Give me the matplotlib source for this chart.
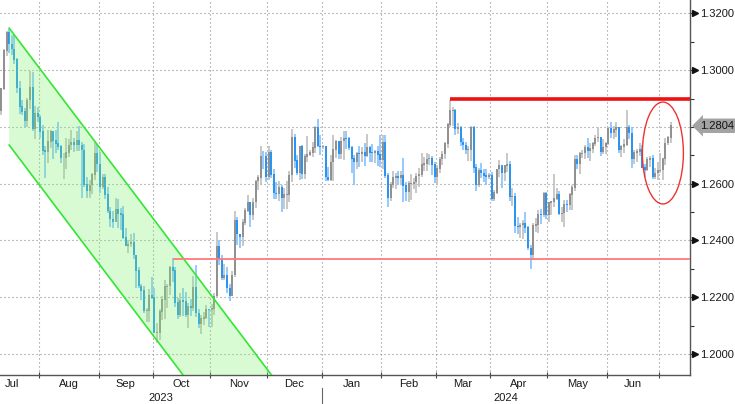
import numpy as np
import pandas as pd
import matplotlib
matplotlib.use('Agg')
import matplotlib.pyplot as plt
from matplotlib.patches import Ellipse, Polygon
from matplotlib import transforms

# daily GBPUSD bars, 3 Jul 2023 .. 5 Jul 2024 (weekdays)
first_open = 1.2700
high = [
    # Jul 2023
    1.2736, 1.2740, 1.2749, 1.2785, 1.2848, 1.2872, 1.2937, 1.3075, 1.3139, 1.3144,
    1.3122, 1.3126, 1.3043, 1.2962, 1.2893, 1.2866, 1.2902, 1.2996, 1.2994, 1.2873, 1.2871,
    # Aug
    1.2843, 1.2808, 1.2733, 1.2790, 1.2790, 1.2780, 1.2790, 1.2818, 1.2737, 1.2707, 1.2762, 1.2757,
    1.2789, 1.2761, 1.2786, 1.2803, 1.2747, 1.2740, 1.2625, 1.2612, 1.2637, 1.2746, 1.2738,
    # Sep
    1.2710, 1.2634, 1.2633, 1.2589, 1.2519, 1.2505, 1.2548, 1.2546, 1.2515, 1.2522, 1.2443,
    1.2400, 1.2424, 1.2425, 1.2341, 1.2308, 1.2245, 1.2238, 1.2163, 1.2228, 1.2271,
    # Oct
    1.2231, 1.2108, 1.2159, 1.2205, 1.2260, 1.2247, 1.2309, 1.2337, 1.2307, 1.2197, 1.2214,
    1.2234, 1.2218, 1.2180, 1.2193, 1.2273, 1.2315, 1.2158, 1.2136, 1.2148, 1.2172, 1.2158,
    # Nov
    1.2176, 1.2214, 1.2428, 1.2400, 1.2347, 1.2317, 1.2306, 1.2247, 1.2292, 1.2505, 1.2483,
    1.2423, 1.2475, 1.2514, 1.2559, 1.2535, 1.2549, 1.2614, 1.2632, 1.2733, 1.2714, 1.2713,
    # Dec
    1.2733, 1.2719, 1.2651, 1.2606, 1.2610, 1.2594, 1.2584, 1.2608, 1.2645, 1.2793, 1.2774,
    1.2701, 1.2734, 1.2737, 1.2705, 1.2767, 1.2717, 1.2748, 1.2803, 1.2827, 1.2771,
    # Jan 2024
    1.2736, 1.2733, 1.2659, 1.2702, 1.2772, 1.2753, 1.2750, 1.2765, 1.2786, 1.2785, 1.2764, 1.2733,
    1.2702, 1.2713, 1.2731, 1.2729, 1.2744, 1.2775, 1.2731, 1.2740, 1.2718, 1.2733, 1.2773,
    # Feb
    1.2773, 1.2772, 1.2637, 1.2606, 1.2643, 1.2637, 1.2645, 1.2646, 1.2690, 1.2605, 1.2611,
    1.2633, 1.2620, 1.2638, 1.2656, 1.2709, 1.2693, 1.2709, 1.2706, 1.2696, 1.2677,
    # Mar
    1.2667, 1.2694, 1.2716, 1.2746, 1.2815, 1.2894, 1.2870, 1.2863, 1.2815, 1.2802, 1.2760,
    1.2746, 1.2733, 1.2802, 1.2804, 1.2669, 1.2656, 1.2673, 1.2652, 1.2652, 1.2636,
    # Apr
    1.2640, 1.2578, 1.2652, 1.2684, 1.2658, 1.2666, 1.2709, 1.2680, 1.2583, 1.2567, 1.2481,
    1.2463, 1.2473, 1.2499, 1.2451, 1.2384, 1.2462, 1.2480, 1.2509, 1.2510, 1.2570, 1.2569,
    # May
    1.2536, 1.2539, 1.2635, 1.2584, 1.2574, 1.2517, 1.2541, 1.2541, 1.2567, 1.2596, 1.2702, 1.2700,
    1.2712, 1.2717, 1.2735, 1.2761, 1.2743, 1.2746, 1.2771, 1.2801, 1.2765, 1.2757, 1.2748,
    # Jun
    1.2800, 1.2816, 1.2804, 1.2818, 1.2801, 1.2737, 1.2759, 1.2860, 1.2807, 1.2800,
    1.2720, 1.2723, 1.2744, 1.2736, 1.2669, 1.2694, 1.2699, 1.2702, 1.2654, 1.2676,
    # Jul
    1.2709, 1.2685, 1.2760, 1.2768, 1.2816,
]
low = [
    1.2659, 1.2690, 1.2678, 1.2678, 1.2731, 1.2796, 1.2843, 1.2930, 1.3048, 1.3060,
    1.3052, 1.3021, 1.2919, 1.2846, 1.2843, 1.2797, 1.2800, 1.2864, 1.2786, 1.2759, 1.2818,
    1.2760, 1.2700, 1.2620, 1.2672, 1.2727, 1.2688, 1.2707, 1.2717, 1.2674, 1.2617, 1.2653, 1.2693,
    1.2717, 1.2712, 1.2715, 1.2714, 1.2548, 1.2588, 1.2548, 1.2548, 1.2563, 1.2612, 1.2641,
    1.2568, 1.2580, 1.2546, 1.2497, 1.2446, 1.2445, 1.2475, 1.2445, 1.2437, 1.2404, 1.2379,
    1.2357, 1.2377, 1.2334, 1.2231, 1.2231, 1.2190, 1.2144, 1.2111, 1.2113, 1.2193,
    1.2074, 1.2037, 1.2051, 1.2120, 1.2123, 1.2163, 1.2207, 1.2255, 1.2166, 1.2123, 1.2131,
    1.2134, 1.2132, 1.2091, 1.2133, 1.2150, 1.2130, 1.2090, 1.2069, 1.2102, 1.2124, 1.2096,
    1.2096, 1.2138, 1.2196, 1.2315, 1.2259, 1.2262, 1.2215, 1.2187, 1.2209, 1.2271, 1.2385,
    1.2374, 1.2382, 1.2454, 1.2499, 1.2446, 1.2473, 1.2515, 1.2576, 1.2598, 1.2652, 1.2606,
    1.2614, 1.2620, 1.2547, 1.2545, 1.2540, 1.2500, 1.2512, 1.2512, 1.2535, 1.2606, 1.2656,
    1.2630, 1.2612, 1.2617, 1.2615, 1.2676, 1.2697, 1.2695, 1.2708, 1.2729, 1.2700,
    1.2722, 1.2609, 1.2611, 1.2611, 1.2611, 1.2690, 1.2687, 1.2687, 1.2682, 1.2723, 1.2720, 1.2636,
    1.2597, 1.2653, 1.2660, 1.2676, 1.2663, 1.2694, 1.2676, 1.2677, 1.2674, 1.2661, 1.2659,
    1.2652, 1.2620, 1.2518, 1.2540, 1.2584, 1.2582, 1.2597, 1.2594, 1.2536, 1.2540, 1.2535,
    1.2544, 1.2580, 1.2567, 1.2588, 1.2625, 1.2644, 1.2644, 1.2666, 1.2630, 1.2603,
    1.2599, 1.2638, 1.2666, 1.2687, 1.2725, 1.2801, 1.2803, 1.2772, 1.2776, 1.2733, 1.2719,
    1.2705, 1.2679, 1.2681, 1.2636, 1.2575, 1.2587, 1.2620, 1.2605, 1.2594, 1.2615,
    1.2539, 1.2539, 1.2565, 1.2625, 1.2584, 1.2609, 1.2642, 1.2539, 1.2520, 1.2427, 1.2424,
    1.2408, 1.2406, 1.2427, 1.2367, 1.2300, 1.2330, 1.2431, 1.2425, 1.2458, 1.2483, 1.2474,
    1.2466, 1.2491, 1.2517, 1.2541, 1.2488, 1.2466, 1.2446, 1.2499, 1.2507, 1.2507, 1.2573, 1.2651,
    1.2635, 1.2691, 1.2688, 1.2692, 1.2680, 1.2709, 1.2733, 1.2747, 1.2698, 1.2705, 1.2704,
    1.2736, 1.2760, 1.2759, 1.2765, 1.2708, 1.2695, 1.2708, 1.2733, 1.2756, 1.2656,
    1.2671, 1.2675, 1.2699, 1.2654, 1.2623, 1.2645, 1.2658, 1.2617, 1.2615, 1.2613,
    1.2637, 1.2613, 1.2667, 1.2737, 1.2745,
]
close = [
    1.2710, 1.2720, 1.2711, 1.2747, 1.2837, 1.2857, 1.2935, 1.3068, 1.3131, 1.3091,
    1.3074, 1.3037, 1.2936, 1.2871, 1.2854, 1.2822, 1.2893, 1.2937, 1.2792, 1.2848, 1.2834,
    1.2782, 1.2716, 1.2711, 1.2747, 1.2785, 1.2751, 1.2740, 1.2730, 1.2690, 1.2690, 1.2708, 1.2735,
    1.2746, 1.2736, 1.2752, 1.2735, 1.2718, 1.2597, 1.2575, 1.2594, 1.2632, 1.2706, 1.2668,
    1.2587, 1.2623, 1.2561, 1.2502, 1.2474, 1.2465, 1.2508, 1.2493, 1.2490, 1.2409, 1.2381,
    1.2387, 1.2392, 1.2347, 1.2293, 1.2238, 1.2223, 1.2152, 1.2153, 1.2207, 1.2198,
    1.2074, 1.2075, 1.2149, 1.2191, 1.2237, 1.2238, 1.2303, 1.2293, 1.2181, 1.2136, 1.2187,
    1.2183, 1.2139, 1.2166, 1.2162, 1.2233, 1.2144, 1.2106, 1.2124, 1.2127, 1.2158, 1.2155,
    1.2159, 1.2204, 1.2380, 1.2334, 1.2268, 1.2275, 1.2231, 1.2206, 1.2278, 1.2469, 1.2421,
    1.2412, 1.2463, 1.2504, 1.2532, 1.2489, 1.2535, 1.2608, 1.2620, 1.2697, 1.2696, 1.2623,
    1.2711, 1.2631, 1.2566, 1.2563, 1.2587, 1.2550, 1.2560, 1.2560, 1.2630, 1.2762, 1.2680,
    1.2637, 1.2730, 1.2633, 1.2694, 1.2702, 1.2709, 1.2727, 1.2798, 1.2731, 1.2730,
    1.2730, 1.2623, 1.2613, 1.2676, 1.2720, 1.2747, 1.2705, 1.2749, 1.2760, 1.2759, 1.2727, 1.2688,
    1.2678, 1.2707, 1.2703, 1.2709, 1.2698, 1.2727, 1.2708, 1.2707, 1.2713, 1.2701, 1.2685,
    1.2745, 1.2628, 1.2548, 1.2596, 1.2620, 1.2625, 1.2621, 1.2628, 1.2593, 1.2570, 1.2599,
    1.2600, 1.2605, 1.2626, 1.2632, 1.2667, 1.2670, 1.2686, 1.2689, 1.2667, 1.2624,
    1.2653, 1.2686, 1.2703, 1.2741, 1.2807, 1.2857, 1.2857, 1.2794, 1.2798, 1.2746, 1.2735,
    1.2720, 1.2720, 1.2798, 1.2655, 1.2597, 1.2645, 1.2637, 1.2628, 1.2622, 1.2627,
    1.2546, 1.2567, 1.2650, 1.2665, 1.2637, 1.2662, 1.2669, 1.2552, 1.2556, 1.2450, 1.2447,
    1.2453, 1.2460, 1.2444, 1.2372, 1.2347, 1.2452, 1.2456, 1.2491, 1.2490, 1.2565, 1.2490,
    1.2533, 1.2536, 1.2546, 1.2563, 1.2493, 1.2495, 1.2526, 1.2524, 1.2560, 1.2586, 1.2685, 1.2670,
    1.2706, 1.2707, 1.2726, 1.2714, 1.2722, 1.2740, 1.2760, 1.2764, 1.2713, 1.2728, 1.2740,
    1.2793, 1.2779, 1.2790, 1.2796, 1.2720, 1.2729, 1.2737, 1.2798, 1.2778, 1.2687,
    1.2708, 1.2712, 1.2719, 1.2655, 1.2647, 1.2685, 1.2688, 1.2622, 1.2637, 1.2645,
    1.2647, 1.2687, 1.2743, 1.2761, 1.2804,
]

# annotations drawn on the chart
chan_dates = ['2023-07-14', '2023-12-29']
chan_upper = [1.3148, 1.1698]
chan_lower = [1.2736, 1.1286]
resist_date, resist_level = '2024-03-08', 1.2898
support_date, support_level = '2023-10-11', 1.2335
circle_date, circle_level = '2024-07-02', 1.2708
circle_w, circle_h = 15.8, 0.0359

yticks = [1.20, 1.22, 1.24, 1.26, 1.28, 1.30, 1.32]

dates = pd.bdate_range('2023-07-03', periods=len(close))
x = np.arange(len(close))
opens = [first_open] + close[:-1]


def pos(d):
    return dates.get_loc(pd.Timestamp(d))


W, H = 735, 404
fig = plt.figure(figsize=(W / 100, H / 100), dpi=100)
ax = fig.add_axes([0, 1 - 375 / H, 690 / W, 375 / H])

# month boundaries
starts = [0] + [i for i in range(1, len(dates)) if dates[i].month != dates[i - 1].month]
bounds = [s - 0.5 for s in starts]
xl = 5.47
xr = 271.45
ax.set_xlim(xl, xr)
ax.set_ylim(1.1926, 1.3247)

# grid
for b in bounds[1:]:
    ax.axvline(b, color='#8a8a8a', lw=0.8, ls=(0, (1, 2.6)), zorder=0.5)
for yv in yticks:
    ax.axhline(yv, color='#8a8a8a', lw=0.8, ls=(0, (1, 2.6)), zorder=0.5)

# candles
for i in x:
    o, c = opens[i], close[i]
    if c >= o:
        body, wick = '#8c8c8c', '#c4c4c4'
    else:
        body, wick = '#1f8fef', '#8cc6ff'
    ax.vlines(i, low[i], high[i], color=wick, lw=1.3, zorder=2)
    ax.vlines(i, min(o, c), max(o, c) + 0.0002, color=body, lw=1.3, zorder=2.1)

# channel
cx = [pos(d) for d in chan_dates]
poly = Polygon([(cx[0], chan_upper[0]), (cx[1], chan_upper[1]),
                (cx[1], chan_lower[1]), (cx[0], chan_lower[0])],
               closed=True, facecolor=(0.5, 0.95, 0.45), alpha=0.3, edgecolor='none', zorder=3)
ax.add_patch(poly)
ax.plot(cx, chan_upper, color='#33e633', lw=1.2, zorder=4)
ax.plot(cx, chan_lower, color='#33e633', lw=1.2, zorder=4)

# levels
ax.hlines(resist_level, pos(resist_date), xr, color='#ee1111', lw=2.6, zorder=5)
ax.hlines(support_level, pos(support_date), xr, color='#ff7a7a', lw=1.3, zorder=5)
ax.add_patch(Ellipse((pos(circle_date), circle_level), circle_w, circle_h,
                     fill=False, edgecolor='#ee3333', lw=1.0, zorder=5))

# spines
for s in ['top', 'left']:
    ax.spines[s].set_visible(False)
for s in ['right', 'bottom']:
    ax.spines[s].set_color('#555555')
    ax.spines[s].set_linewidth(1.0)

# x axis: month ticks and labels
mids = []
mlabels = []
for k in range(len(starts) - 1):
    mids.append((bounds[k] + bounds[k + 1]) / 2)
    mlabels.append(dates[starts[k]].strftime('%b'))
ax.set_xticks(bounds[1:])
ax.set_xticklabels([])
ax.set_xticks(mids, minor=True)
ax.set_xticklabels(mlabels, minor=True, fontsize=8, family='Liberation Sans', color='#1a1a1a')
ax.tick_params(axis='x', which='major', direction='inout', length=5, width=0.8, color='#444444')
ax.tick_params(axis='x', which='minor', length=0, pad=3)

# years
jan = pos('2024-01-01') - 0.5
tb = transforms.blended_transform_factory(ax.transData, fig.transFigure)
for xc, lab in [((xl + jan) / 2, '2023'), ((jan + xr) / 2, '2024')]:
    ax.text(xc, 1 - 398 / H, lab, transform=tb, ha='center', va='center',
            fontsize=8, family='Liberation Sans', color='#1a1a1a')
ax.plot([jan, jan], [0, 1 - 388 / H], transform=tb, color='#666666', lw=0.8, clip_on=False)

# y axis on the right
last = close[-1]
ax.yaxis.tick_right()
ax.set_yticks(yticks)
ax.set_yticklabels(['' if abs(v - 1.28) < 1e-9 else f'{v:.4f}' for v in yticks],
                   fontsize=8, family='Liberation Sans', color='#1a1a1a')
ax.set_yticks(np.arange(1.21, 1.32, 0.02), minor=True)
ax.tick_params(axis='y', which='major', direction='out', length=3, width=0.8, color='#333333', pad=4)
ax.tick_params(axis='y', which='minor', direction='out', length=3, width=0.8, color='#333333')
ty = transforms.blended_transform_factory(ax.transAxes, ax.transData) + \
    transforms.ScaledTranslation(5 / 100, 0, fig.dpi_scale_trans)
marks = [v for v in yticks if abs(v - 1.28) > 1e-9]
ax.plot(np.ones(len(marks)), marks, transform=ty, ls='none', marker='>', ms=4.5,
        color='#111111', clip_on=False)

# last price box
ty2 = transforms.blended_transform_factory(ax.transAxes, ax.transData) + \
    transforms.ScaledTranslation(10 / 100, 0, fig.dpi_scale_trans)
ax.text(1.0, last, f'{last:.4f}', transform=ty2, ha='left', va='center', fontsize=8,
        family='Liberation Sans', color='#111111', clip_on=False,
        bbox=dict(boxstyle='larrow,pad=0.2', facecolor='#a3a3a3', edgecolor='none'))

fig.savefig('out.png', dpi=100)
